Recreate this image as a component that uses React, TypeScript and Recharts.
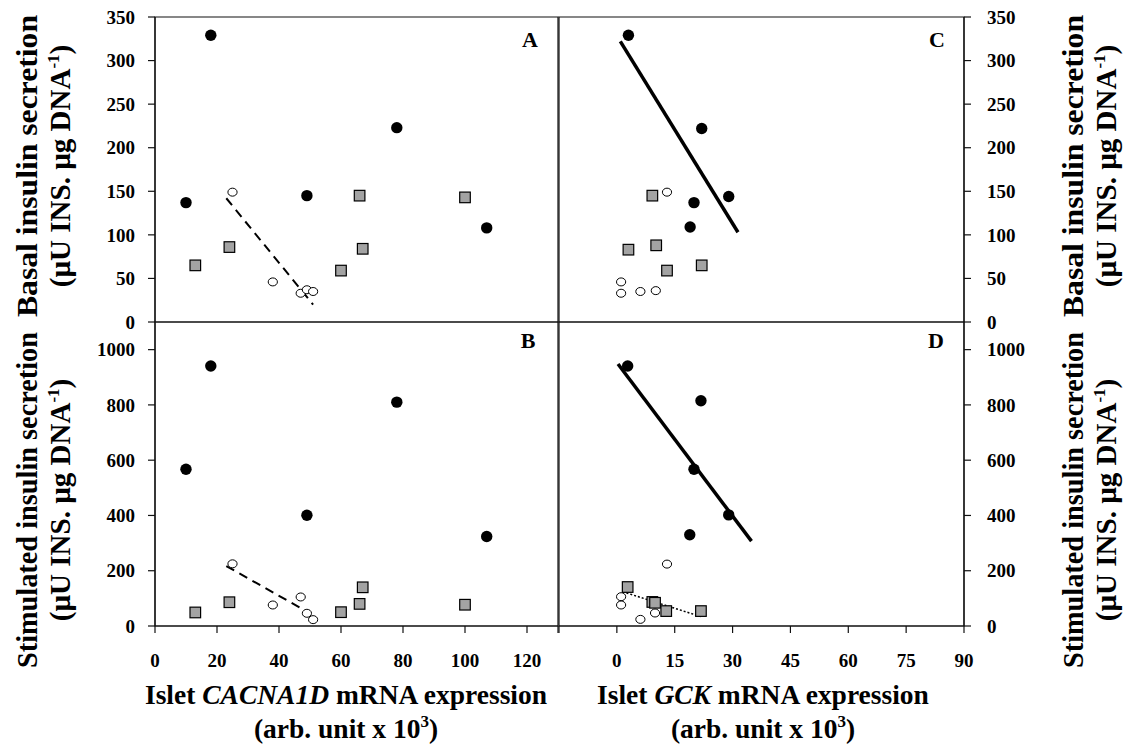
import React from "react";
import {
  ScatterChart,
  Scatter,
  XAxis,
  YAxis,
  ReferenceLine,
  ReferenceArea,
} from "recharts";

// Panel A - basal secretion vs CACNA1D
const aFilledX = [10, 18, 49, 78, 107];
const aFilledY = [137, 329, 145, 223, 108];
const aSquareX = [13, 24, 60, 66, 67, 100];
const aSquareY = [65, 86, 59, 145, 84, 143];
const aOpenX = [25, 38, 47, 49, 51];
const aOpenY = [149, 46, 33, 37, 35];
const aFitX = [23, 51];
const aFitY = [142, 20];

// Panel B - stimulated secretion vs CACNA1D
const bFilledX = [10, 18, 49, 78, 107];
const bFilledY = [567, 941, 401, 810, 324];
const bSquareX = [13, 24, 60, 66, 67, 100];
const bSquareY = [49, 86, 50, 80, 140, 77];
const bOpenX = [25, 38, 47, 49, 51];
const bOpenY = [225, 76, 105, 46, 23];
const bFitX = [23, 50];
const bFitY = [217, 46];

// Panel C - basal secretion vs GCK
const cFilledX = [3, 22, 29, 20, 19];
const cFilledY = [329, 222, 144, 137, 109];
const cSquareX = [9.2, 3, 10.2, 13, 22];
const cSquareY = [145, 83, 88, 59, 65];
const cOpenX = [13, 1.1, 1.1, 6.1, 10.1];
const cOpenY = [149, 46, 33, 35, 36];
const cFitX = [0.9, 31.4];
const cFitY = [322, 103];

// Panel D - stimulated secretion vs GCK
const dFilledX = [2.8, 21.8, 20, 29, 18.9];
const dFilledY = [941, 815, 567, 402, 330];
const dSquareX = [2.8, 9.2, 9.9, 12.8, 21.8];
const dSquareY = [141, 87, 84, 54, 54];
const dOpenX = [13, 1.1, 1.1, 6.1, 9.9];
const dOpenY = [224, 106, 76, 24, 47];
const dFitX = [0.3, 34.9];
const dFitY = [948, 307];
const dDotX = [1.5, 21.8];
const dDotY = [124, 34];

const cacnaTicks = [0, 20, 40, 60, 80, 100, 120, 130];
const gckTicks = [-15, 0, 15, 30, 45, 60, 75, 90];
const basalTicks = [0, 50, 100, 150, 200, 250, 300, 350];
const stimTicks = [0, 200, 400, 600, 800, 1000];

const FONT = "'Liberation Serif', 'Times New Roman', serif";
const tickStyle = { fill: "#000", fontSize: 19, fontWeight: "bold", fontFamily: FONT };

const pts = (xs: number[], ys: number[]) => xs.map((x, i) => ({ x, y: ys[i] }));
const seg = (xs: number[], ys: number[]) => [
  { x: xs[0], y: ys[0] },
  { x: xs[1], y: ys[1] },
];

const Filled = (p: any) => <circle cx={p.cx} cy={p.cy} r={5.7} fill="#000" />;
const Open = (p: any) => (
  <ellipse cx={p.cx} cy={p.cy} rx={4.6} ry={4} fill="#fff" stroke="#000" strokeWidth={1} />
);
const Square = (p: any) => (
  <rect x={p.cx - 5.3} y={p.cy - 5.3} width={10.6} height={10.6} fill="#a3a3a3" stroke="#000" strokeWidth={1.2} />
);

type PanelProps = {
  left: number;
  top: number;
  height: number;
  right?: boolean;
  showX: boolean;
  xDomain: [number, number];
  xTicks: number[];
  yDomain: [number, number];
  yTicks: number[];
  filled: { x: number; y: number }[];
  squares: { x: number; y: number }[];
  open: { x: number; y: number }[];
  children?: React.ReactNode;
};

function Panel(p: PanelProps) {
  const width = p.right ? 585 : 560;
  const margin = p.right
    ? { left: 19, right: 101, top: p.showX ? 22 : 17, bottom: p.showX ? 0 : 18 }
    : { left: 95, right: 2, top: p.showX ? 22 : 17, bottom: p.showX ? 0 : 18 };
  const xLabel = (v: number) => (v < 0 || v === 130 ? "" : String(v));
  return (
    <div style={{ position: "absolute", left: p.left, top: p.top }}>
      <ScatterChart width={width} height={p.height} margin={margin}>
        <XAxis
          type="number"
          dataKey="x"
          domain={p.xDomain}
          ticks={p.xTicks}
          allowDataOverflow
          hide={!p.showX}
          height={54}
          tick={tickStyle}
          tickFormatter={xLabel}
          tickSize={7}
          tickMargin={21}
          axisLine={{ stroke: "#111", strokeWidth: 1.2 }}
          tickLine={{ stroke: "#111", strokeWidth: 1.2 }}
          interval={0}
        />
        <YAxis
          type="number"
          dataKey="y"
          orientation={p.right ? "right" : "left"}
          domain={p.yDomain}
          ticks={p.yTicks}
          allowDataOverflow
          width={60}
          tick={tickStyle}
          tickSize={7}
          tickMargin={p.right ? 16 : 13}
          axisLine={{ stroke: "#111", strokeWidth: 1.2 }}
          tickLine={{ stroke: "#111", strokeWidth: 1.2 }}
          interval={0}
        />
        <ReferenceArea
          x1={p.xDomain[0]}
          x2={p.xDomain[1]}
          y1={p.yDomain[0]}
          y2={p.yDomain[1]}
          fill="none"
          stroke="#111"
          strokeWidth={1.2}
          fillOpacity={0}
        />
        {p.children}
        <Scatter data={p.squares} shape={Square} isAnimationActive={false} />
        <Scatter data={p.open} shape={Open} isAnimationActive={false} />
        <Scatter data={p.filled} shape={Filled} isAnimationActive={false} />
      </ScatterChart>
    </div>
  );
}

const txt = { fontFamily: FONT, fontWeight: "bold", fill: "#000" } as const;

function YTitle({ x, y, first, len }: { x: number; y: number; first: string; len: number }) {
  return (
    <g>
      <text
        x={x}
        y={y}
        transform={`rotate(-90, ${x}, ${y})`}
        textAnchor="middle"
        fontSize={29}
        textLength={len}
        lengthAdjust="spacingAndGlyphs"
        {...txt}
      >
        {first}
      </text>
      <text
        x={x + 33}
        y={y}
        transform={`rotate(-90, ${x + 33}, ${y})`}
        textAnchor="middle"
        fontSize={29}
        {...txt}
      >
        (µU INS. µg DNA
        <tspan fontSize={17} dy={-11}>-1</tspan>
        <tspan dy={11}>)</tspan>
      </text>
    </g>
  );
}

function XTitle({ x, gene }: { x: number; gene: string }) {
  return (
    <g>
      <text x={x} y={704} textAnchor="middle" fontSize={27.5} {...txt}>
        Islet <tspan fontStyle="italic">{gene}</tspan> mRNA expression
      </text>
      <text x={x} y={738} textAnchor="middle" fontSize={27.5} {...txt}>
        (arb. unit x 10
        <tspan fontSize={17} dy={-11}>3</tspan>
        <tspan dy={11}>)</tspan>
      </text>
    </g>
  );
}

export default function App() {
  return (
    <div style={{ position: "absolute", left: 0, top: 0, width: 1125, height: 747, background: "#fff" }}>
      <Panel
        left={0}
        top={0}
        height={340}
        showX={false}
        xDomain={[0, 130]}
        xTicks={cacnaTicks}
        yDomain={[0, 350]}
        yTicks={basalTicks}
        filled={pts(aFilledX, aFilledY)}
        squares={pts(aSquareX, aSquareY)}
        open={pts(aOpenX, aOpenY)}
      >
        <ReferenceLine segment={seg(aFitX, aFitY)} stroke="#000" strokeWidth={2} strokeDasharray="9 6" />
      </Panel>
      <Panel
        left={0}
        top={300}
        height={380}
        showX
        xDomain={[0, 130]}
        xTicks={cacnaTicks}
        yDomain={[0, 1100]}
        yTicks={stimTicks}
        filled={pts(bFilledX, bFilledY)}
        squares={pts(bSquareX, bSquareY)}
        open={pts(bOpenX, bOpenY)}
      >
        <ReferenceLine segment={seg(bFitX, bFitY)} stroke="#000" strokeWidth={2} strokeDasharray="9 6" />
      </Panel>
      <Panel
        left={540}
        top={0}
        height={340}
        right
        showX={false}
        xDomain={[-15, 90]}
        xTicks={gckTicks}
        yDomain={[0, 350]}
        yTicks={basalTicks}
        filled={pts(cFilledX, cFilledY)}
        squares={pts(cSquareX, cSquareY)}
        open={pts(cOpenX, cOpenY)}
      >
        <ReferenceLine segment={seg(cFitX, cFitY)} stroke="#000" strokeWidth={3.5} />
      </Panel>
      <Panel
        left={540}
        top={300}
        height={380}
        right
        showX
        xDomain={[-15, 90]}
        xTicks={gckTicks}
        yDomain={[0, 1100]}
        yTicks={stimTicks}
        filled={pts(dFilledX, dFilledY)}
        squares={pts(dSquareX, dSquareY)}
        open={pts(dOpenX, dOpenY)}
      >
        <ReferenceLine segment={seg(dFitX, dFitY)} stroke="#000" strokeWidth={3.5} />
        <ReferenceLine segment={seg(dDotX, dDotY)} stroke="#000" strokeWidth={1.5} strokeDasharray="2 2" />
      </Panel>
      <svg width={1125} height={747} style={{ position: "absolute", left: 0, top: 0, pointerEvents: "none" }}>
        <YTitle x={37} y={166} first="Basal insulin secretion" len={302} />
        <YTitle x={37} y={500} first="Stimulated insulin secretion" len={336} />
        <YTitle x={1083} y={166} first="Basal insulin secretion" len={302} />
        <YTitle x={1083} y={500} first="Stimulated insulin secretion" len={336} />
        <XTitle x={346} gene="CACNA1D" />
        <XTitle x={763} gene="GCK" />
        <text x={530} y={47} textAnchor="middle" fontSize={22} {...txt}>A</text>
        <text x={528} y={348} textAnchor="middle" fontSize={22} {...txt}>B</text>
        <text x={937} y={47} textAnchor="middle" fontSize={22} {...txt}>C</text>
        <text x={936} y={348} textAnchor="middle" fontSize={22} {...txt}>D</text>
      </svg>
    </div>
  );
}
